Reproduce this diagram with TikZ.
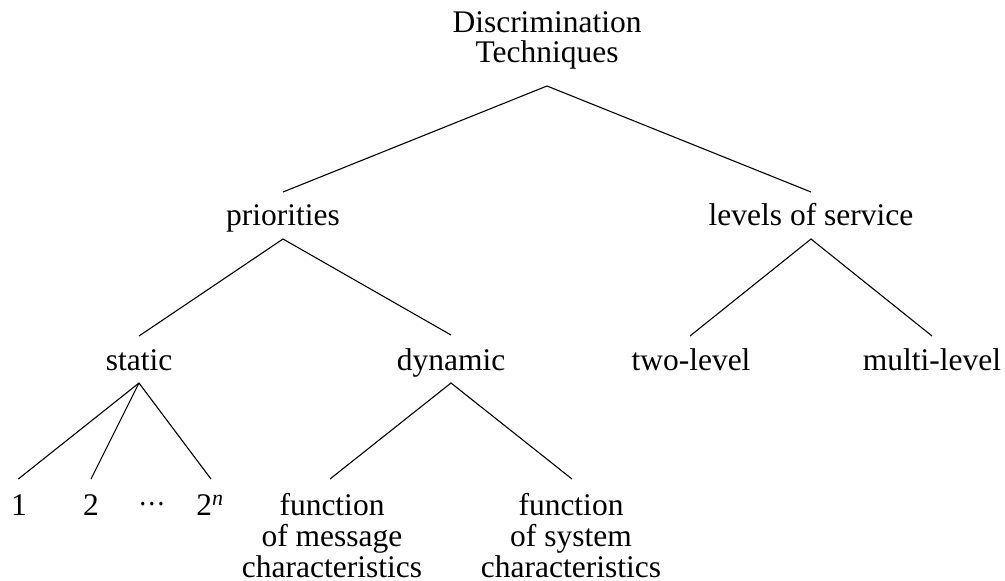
\documentclass[tikz,border=0pt]{standalone}
\usepackage{fontspec}
\setmainfont{Liberation Serif}
\begin{document}
\begin{tikzpicture}[x=1pt,y=-1pt,
  lbl/.style={anchor=base,inner sep=0pt,font=\fontsize{31.5}{30}\selectfont},
  branch/.style={line width=1.1pt,line join=miter}]
\useasboundingbox (0,0) rectangle (1005,581);
% labels
\node[lbl] (root) at (547,32) {\begin{tabular}[t]{@{}c@{}}Discrimination\\Techniques\end{tabular}};
\node[lbl] (pri) at (283,225) {priorities};
\node[lbl] (los) at (811,225) {levels of service};
\node[lbl] (static) at (139,370) {static};
\node[lbl] (dynamic) at (451,370) {dynamic};
\node[lbl] (twolevel) at (691,370) {two-level};
\node[lbl] (multilevel) at (932,370) {multi-level};
\node[lbl] (one) at (19,515) {1};
\node[lbl] (two) at (91,515) {2};
\node[lbl] (dots) at (152,515) {\raisebox{10pt}{\scalebox{0.86}[1]{…}}};
\node[lbl] (twon) at (210,515) {2\textsuperscript{\textit{n}}};
\node[lbl] (fmsg) at (332,515) {\begin{tabular}[t]{@{}c@{}}function\\of message\\characteristics\end{tabular}};
\node[lbl] (fsys) at (571,515) {\begin{tabular}[t]{@{}c@{}}function\\of system\\characteristics\end{tabular}};
% connector ends
\coordinate (root-b) at ([yshift=-54pt]root.base);
\coordinate (pri-t) at ([yshift=33pt]pri.base);
\coordinate (pri-b) at ([yshift=-14pt]pri.base);
\coordinate (los-t) at ([yshift=33pt]los.base);
\coordinate (los-b) at ([yshift=-14pt]los.base);
\coordinate (static-t) at ([yshift=34pt]static.base);
\coordinate (static-b) at ([yshift=-13pt]static.base);
\coordinate (dynamic-t) at ([yshift=35pt]dynamic.base);
\coordinate (dynamic-b) at ([yshift=-13pt]dynamic.base);
\coordinate (twolevel-t) at ([xshift=-1pt,yshift=34pt]twolevel.base);
\coordinate (multilevel-t) at ([yshift=34pt]multilevel.base);
\coordinate (one-t) at ([xshift=-0.7pt,yshift=36pt]one.base);
\coordinate (two-t) at ([yshift=36pt]two.base);
\coordinate (twon-t) at ([xshift=1pt,yshift=36pt]twon.base);
\coordinate (fmsg-t) at ([xshift=-2pt,yshift=36pt]fmsg.base);
\coordinate (fsys-t) at ([xshift=1pt,yshift=36pt]fsys.base);
% connectors
\draw[branch] (pri-t) -- (root-b) -- (los-t);
\draw[branch] (static-t) -- (pri-b) -- (dynamic-t);
\draw[branch] (twolevel-t) -- (los-b) -- (multilevel-t);
\draw[branch] (one-t) -- (static-b) -- (twon-t);
\draw[branch] (static-b) -- (two-t);
\draw[branch] (fmsg-t) -- (dynamic-b) -- (fsys-t);
\end{tikzpicture}
\end{document}
